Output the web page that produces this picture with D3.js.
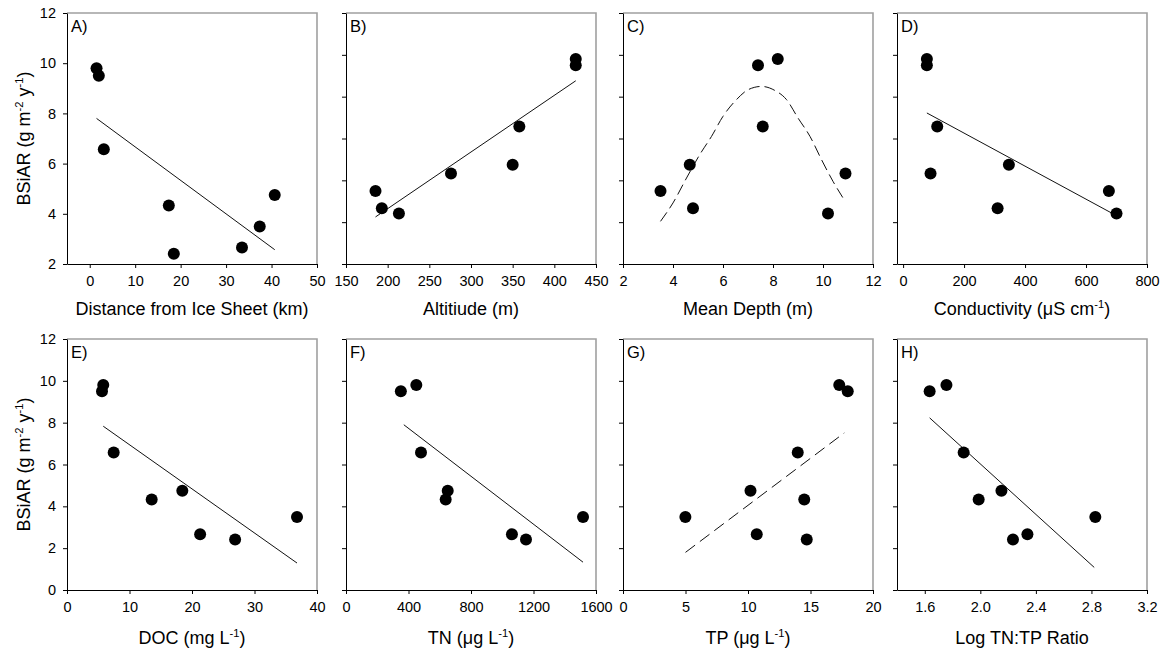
<!DOCTYPE html>
<html>
<head>
<meta charset="utf-8">
<script src="https://cdn.jsdelivr.net/npm/d3@7"></script>
<style>
body { margin: 0; background: #fff; }
text { font-family: "Liberation Sans", Arial, sans-serif; fill: #000; }
</style>
</head>
<body>
<svg id="chart" width="1163" height="654"></svg>
<script>
// BSiAR of the 8 lakes, same lake order in every x array below
var bsiar = [9.8, 9.5, 6.57, 4.33, 2.41, 2.66, 3.49, 4.75]

var distance     = [1.5, 2.0, 3.1, 17.4, 18.5, 33.5, 37.4, 40.7]
var altitude     = [425.7, 425.7, 358, 276, 213.5, 193, 185.4, 350]
var depth        = [8.19, 7.4, 7.59, 10.9, 10.2, 4.8, 3.5, 4.67]
var conductivity = [78, 78, 112, 90, 700, 310, 675, 347]
var doc          = [5.8, 5.6, 7.47, 13.55, 26.9, 21.3, 36.8, 18.45]
var tn           = [450, 351, 480, 638, 1152, 1062, 1517, 651]
var tp           = [17.3, 17.98, 13.98, 14.5, 14.7, 10.7, 4.99, 10.2]
var logNP        = [1.756, 1.635, 1.880, 1.988, 2.235, 2.339, 2.828, 2.152]

// fitted lines (end points)
var fitAx = [1.5, 40.7],   fitAy = [7.8, 2.57]
var fitBx = [185.4, 425.7], fitBy = [2.25, 8.76]
var fitDx = [78, 700],     fitDy = [7.22, 2.31]
var fitEx = [5.8, 36.8],   fitEy = [7.83, 1.29]
var fitFx = [370, 1517],   fitFy = [7.9, 1.33]
var fitGx = [5.0, 17.7],   fitGy = [1.8, 7.51]
var fitHx = [1.635, 2.82], fitHy = [8.23, 1.08]
// gaussian curve in C, traced point by point
var curveCx = [3.5, 4.0, 4.54, 5.07, 5.54, 6.0, 6.54, 7.0, 7.54, 8.07, 8.54, 9.0, 9.48, 9.94, 10.4, 10.8]
var curveCy = [2.04, 2.92, 4.11, 5.23, 6.1, 7.06, 7.86, 8.33, 8.49, 8.3, 7.86, 6.98, 6.1, 4.99, 3.95, 3.16]

// tick values
var ticksA = [0, 10, 20, 30, 40, 50]
var ticksB = [150, 200, 250, 300, 350, 400, 450]
var ticksC = [2, 4, 6, 8, 10, 12]
var ticksD = [0, 200, 400, 600, 800]
var ticksE = [0, 10, 20, 30, 40]
var ticksF = [0, 400, 800, 1200, 1600]
var ticksG = [0, 5, 10, 15, 20]
var ticksH = [1.6, 2.0, 2.4, 2.8, 3.2]
var ticksY = [0, 2, 4, 6, 8, 10, 12]

var panels = [
  {lab: "A)", x: distance, dom: [-5, 50], ticks: ticksA, ydom: [2, 12], fx: fitAx, fy: fitAy, title: [["Distance from Ice Sheet (km)"]]},
  {lab: "B)", x: altitude, dom: [150, 450], ticks: ticksB, ydom: [0, 12], fx: fitBx, fy: fitBy, title: [["Altitiude (m)"]]},
  {lab: "C)", x: depth, dom: [2, 12], ticks: ticksC, ydom: [0, 12], fx: curveCx, fy: curveCy, dash: "11,5", title: [["Mean Depth (m)"]]},
  {lab: "D)", x: conductivity, dom: [-20, 800], ticks: ticksD, ydom: [0, 12], fx: fitDx, fy: fitDy, title: [["Conductivity (\u03bcS cm"], ["-1", 1], [")"]]},
  {lab: "E)", x: doc, dom: [0, 40], ticks: ticksE, ydom: [0, 12], fx: fitEx, fy: fitEy, title: [["DOC (mg L"], ["-1", 1], [")"]]},
  {lab: "F)", x: tn, dom: [0, 1600], ticks: ticksF, ydom: [0, 12], fx: fitFx, fy: fitFy, title: [["TN (\u03bcg L"], ["-1", 1], [")"]]},
  {lab: "G)", x: tp, dom: [0, 20], ticks: ticksG, ydom: [0, 12], fx: fitGx, fy: fitGy, dash: "12,6", title: [["TP (\u03bcg L"], ["-1", 1], [")"]]},
  {lab: "H)", x: logNP, dom: [1.4, 3.2], ticks: ticksH, ydom: [0, 12], fx: fitHx, fy: fitHy, fmt: d3.format(".1f"), title: [["Log TN:TP Ratio"]]}
]
var yTitle = [["BSiAR (g m"], ["-2", 1], [" y"], ["-1", 1], [")"]]

var svg = d3.select("#chart")
var colX = [67, 346, 623, 897], rowY = [13, 339]
var pw = 250, ph = 251

// write text with superscript pieces
function richText(sel, parts) {
  var up = false
  parts.forEach(function(p) {
    var t = sel.append("tspan").text(p[0])
    if (p[1]) { t.attr("font-size", "0.62em").attr("dy", -7); up = true }
    else if (up) { t.attr("dy", 7); up = false }
  })
}

panels.forEach(function(p, i) {
  var col = i % 4, row = Math.floor(i / 4)
  var g = svg.append("g").attr("transform", "translate(" + colX[col] + "," + rowY[row] + ")")

  var x = d3.scaleLinear().domain(p.dom).range([0, pw])
  var y = d3.scaleLinear().domain(p.ydom).range([ph, 0])

  // grey top and right frame
  g.append("path")
    .attr("d", "M0,0H" + pw + "V" + ph)
    .attr("fill", "none").attr("stroke", "#a0a0a0").attr("stroke-width", 1.6)

  var xa = g.append("g").attr("transform", "translate(0," + ph + ")")
    .call(d3.axisBottom(x).tickValues(p.ticks).tickSize(4).tickSizeOuter(0).tickPadding(8)
      .tickFormat(p.fmt || d3.format("d")))
  var ya = g.append("g")
    .call(d3.axisLeft(y).tickValues(ticksY.filter(function(v) { return v >= p.ydom[0] }))
      .tickSize(4).tickSizeOuter(0).tickPadding(7)
      .tickFormat(col == 0 ? d3.format("d") : function() { return "" }))
  ;[xa, ya].forEach(function(a) {
    a.attr("font-size", 14.5).attr("font-family", null)
    a.selectAll("path,line").attr("stroke", "#000")
  })

  // fitted line / curve
  var pts = p.fx.map(function(v, k) { return [v, p.fy[k]] })
  g.append("path")
    .datum(pts)
    .attr("d", d3.line().x(function(d) { return x(d[0]) }).y(function(d) { return y(d[1]) }).curve(d3.curveMonotoneX))
    .attr("fill", "none").attr("stroke", "#111").attr("stroke-width", 1)
    .attr("stroke-dasharray", p.dash || null)

  // points
  g.selectAll(".dot").data(p.x).enter().append("circle")
    .attr("cx", function(d) { return x(d) })
    .attr("cy", function(d, k) { return y(bsiar[k]) })
    .attr("r", 6).attr("fill", "#000")

  g.append("text").attr("x", 4).attr("y", 19).attr("font-size", 16.5).text(p.lab)

  var tt = g.append("text").attr("x", pw / 2).attr("y", ph + (row == 0 ? 51 : 54))
    .attr("text-anchor", "middle").attr("font-size", 18)
  richText(tt, p.title)

  if (col == 0) {
    var yt = g.append("text").attr("transform", "translate(-37," + (ph / 2) + ") rotate(-90)")
      .attr("text-anchor", "middle").attr("font-size", 18)
    richText(yt, yTitle)
  }
})
</script>
</body>
</html>
